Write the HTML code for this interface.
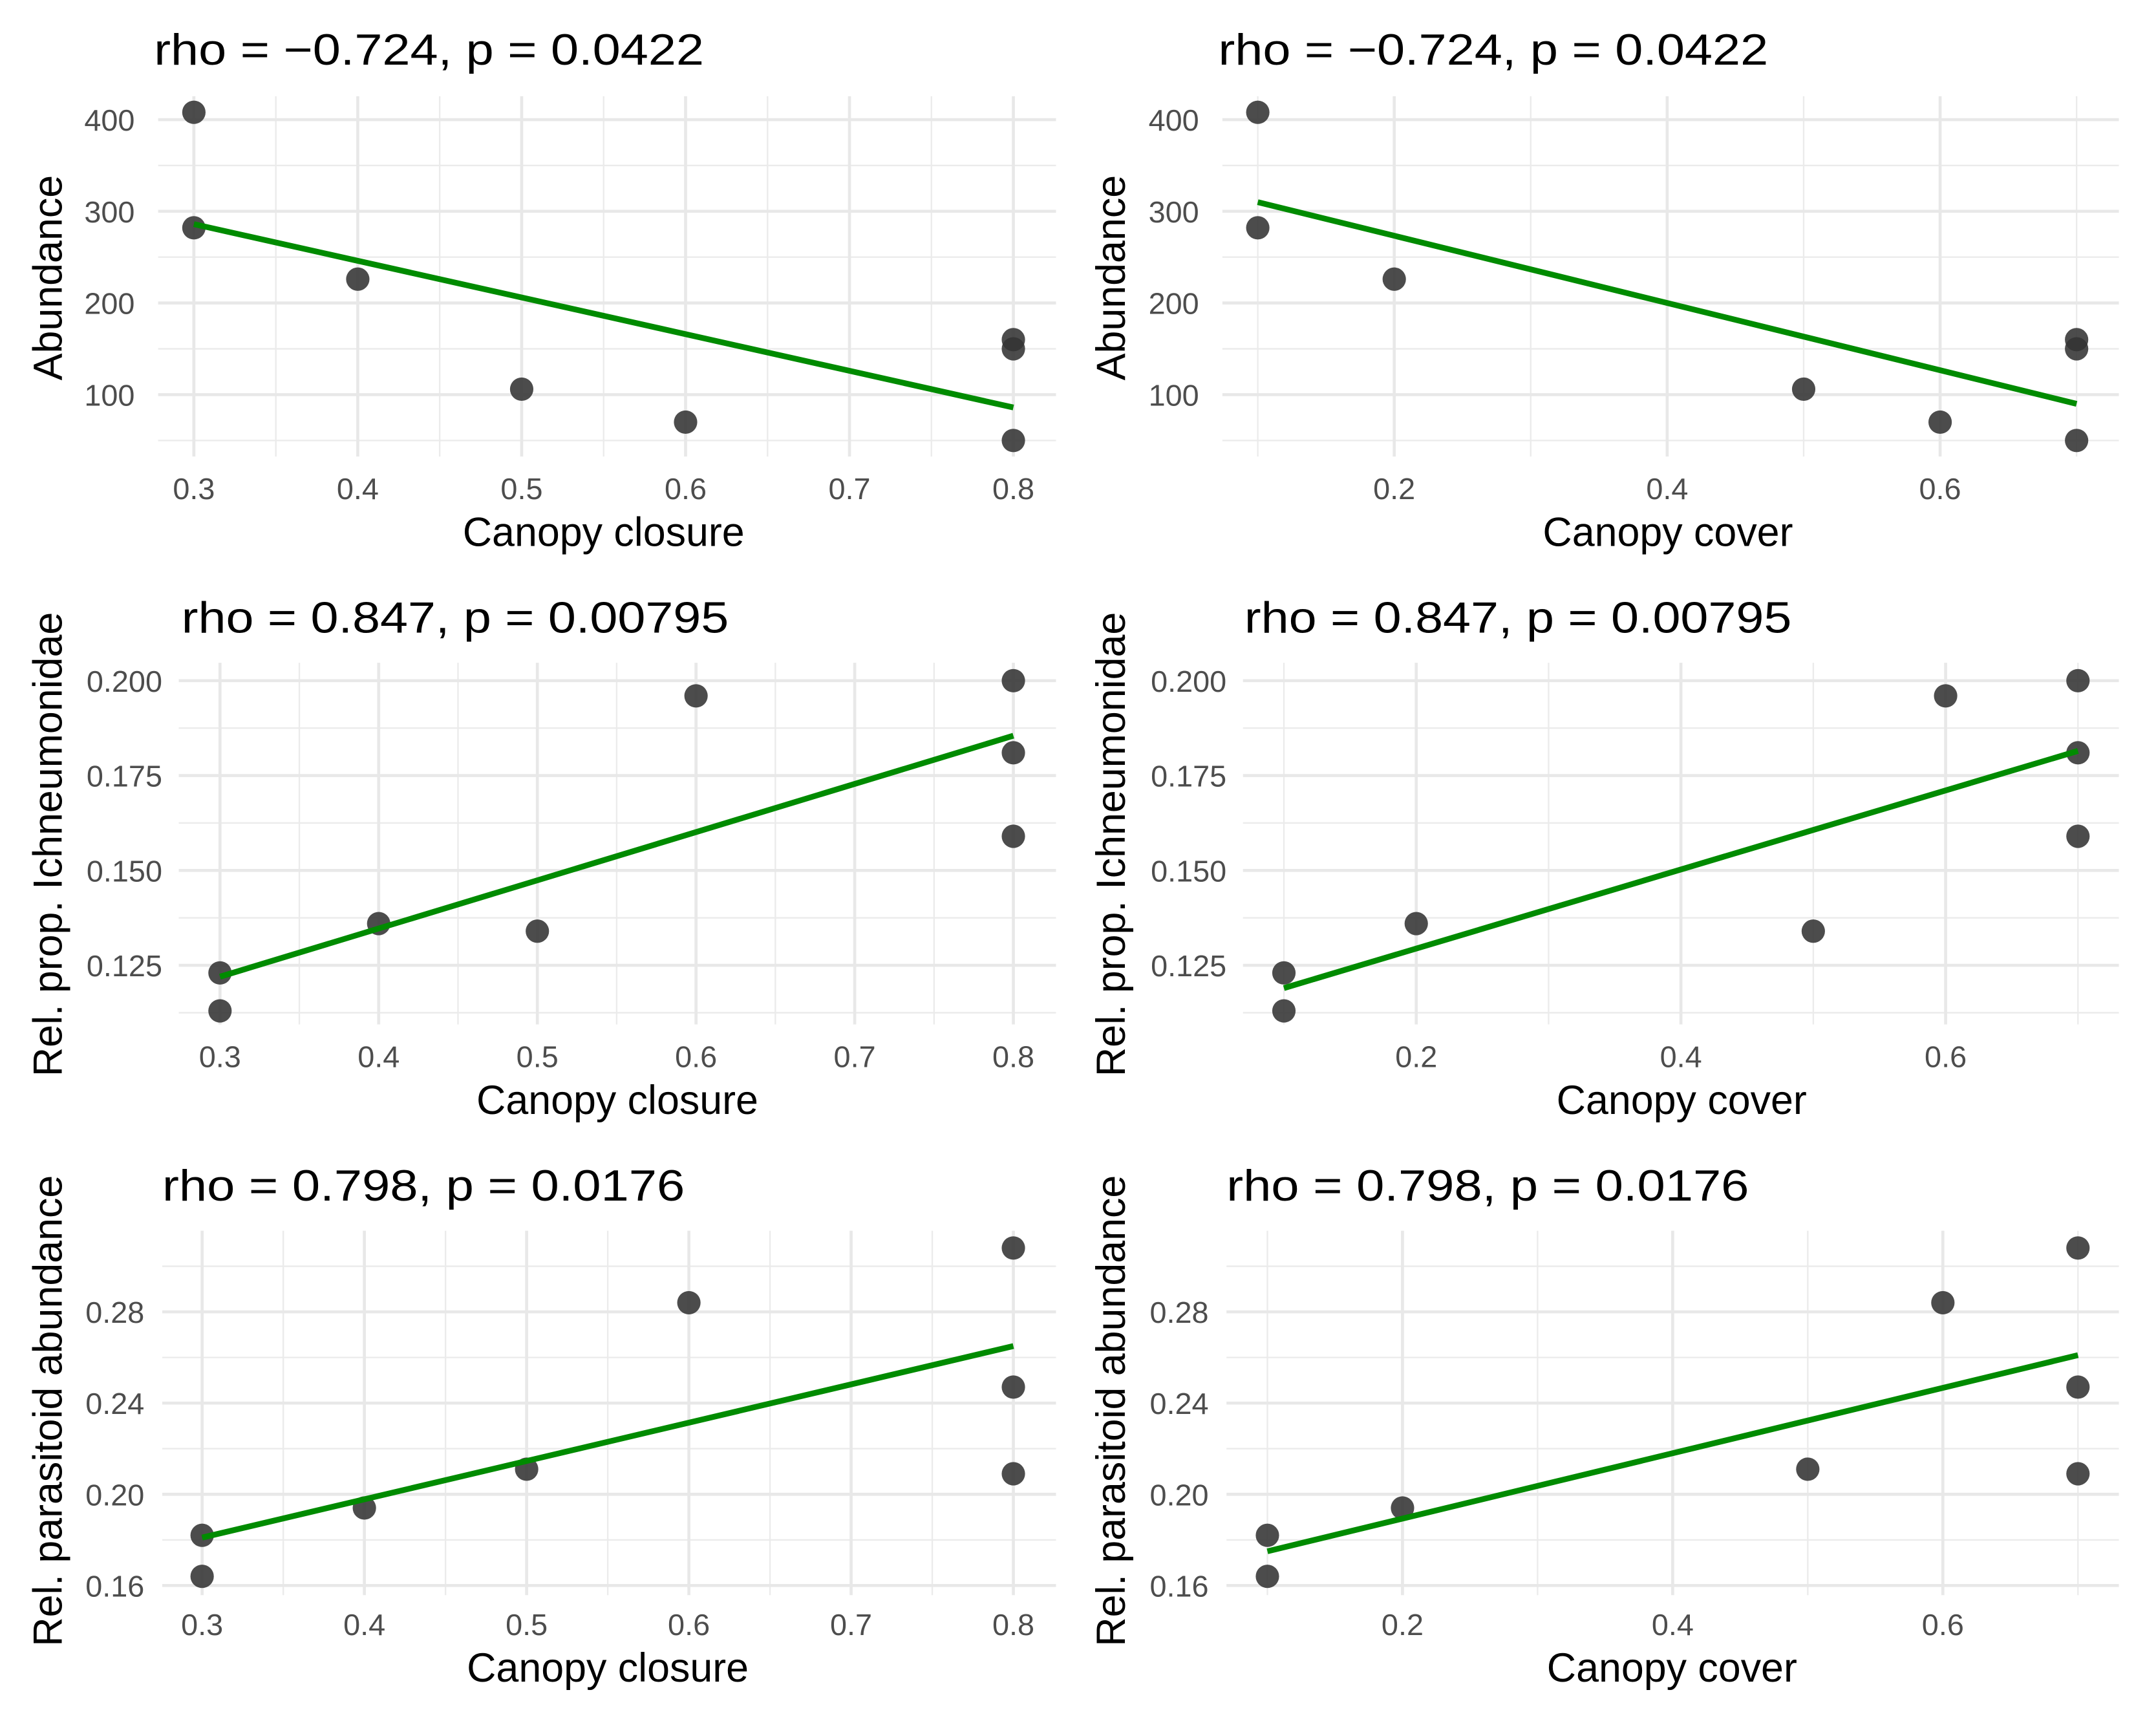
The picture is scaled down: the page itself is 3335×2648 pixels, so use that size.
<!DOCTYPE html>
<html><head><meta charset="utf-8"><style>
html,body{margin:0;padding:0;background:#fff;}
svg{display:block;}
text{font-family:"Liberation Sans",sans-serif;}
</style></head><body>
<svg id="fig" width="3335" height="2648" viewBox="0 0 1568 1245" xmlns="http://www.w3.org/2000/svg">
<rect width="1568" height="1245" fill="#fff"/>
</svg>
<script>
// ---- data ----
const closureX = [0.3, 0.3, 0.4, 0.5, 0.6, 0.8, 0.8, 0.8];
const coverX = [0.1, 0.1, 0.2, 0.5, 0.6, 0.7, 0.7, 0.7];
const abundanceY = [408, 282, 226, 106, 70, 160, 150, 50];
const ichneuY = [0.123, 0.113, 0.136, 0.134, 0.196, 0.200, 0.181, 0.159];
const parasitY = [0.182, 0.164, 0.194, 0.211, 0.284, 0.308, 0.247, 0.209];
const fitAbClosure = [286, 86];
const fitAbCover = [310, 90];
const fitIcClosure = [0.122, 0.1855];
const fitIcCover = [0.119, 0.1815];
const fitPaClosure = [0.181, 0.265];
const fitPaCover = [0.175, 0.261];
const closureTicks = [0.3, 0.4, 0.5, 0.6, 0.7, 0.8];
const closureMinor = [0.35, 0.45, 0.55, 0.65, 0.75];
const coverTicks = [0.2, 0.4, 0.6];
const coverMinor = [0.1, 0.3, 0.5, 0.7];
const abTicks = [100, 200, 300, 400];
const abMinor = [50, 150, 250, 350];
const icTicks = [0.125, 0.150, 0.175, 0.200];
const icTickLabels = ["0.125", "0.150", "0.175", "0.200"];
const icMinor = [0.1125, 0.1375, 0.1625, 0.1875];
const paTicks = [0.16, 0.20, 0.24, 0.28];
const paTickLabels = ["0.16", "0.20", "0.24", "0.28"];
const paMinor = [0.18, 0.22, 0.26, 0.30];

const NS = "http://www.w3.org/2000/svg";
const svg = document.getElementById("fig");
function mk(tag, attrs, parent) {
  const e = document.createElementNS(NS, tag);
  for (const k in attrs) e.setAttribute(k, attrs[k]);
  (parent || svg).appendChild(e);
  return e;
}

function panel(cfg) {
  const g = mk("g", {});
  
  
  const sx = v => cfg.px0 + (v - cfg.xa) / (cfg.xb - cfg.xa) * (cfg.px1 - cfg.px0);
  const sy = v => cfg.py0 + (v - cfg.ya) / (cfg.yb - cfg.ya) * (cfg.py1 - cfg.py0);
  cfg.xMinor.forEach(v => {
    const l = mk("line", {x1: sx(v), x2: sx(v), y1: cfg.top, y2: cfg.bottom, stroke: "#ebebeb", "stroke-width": 1.1}, g);
    
    
  });
  cfg.yMinor.forEach(v => {
    const l = mk("line", {x1: cfg.left, x2: cfg.right, y1: sy(v), y2: sy(v), stroke: "#ebebeb", "stroke-width": 1.1}, g);
    
    
  });
  cfg.xTicks.forEach(v => {
    const l = mk("line", {x1: sx(v), x2: sx(v), y1: cfg.top, y2: cfg.bottom, stroke: "#e8e8e8", "stroke-width": 2.2}, g);
    
    
    const t = mk("text", {x: sx(v), y: cfg.xTickY, "text-anchor": "middle", "font-size": 22, fill: "#4d4d4d"}, g);
    t.textContent = String(v);
    
    
  });
  cfg.yTicks.forEach((v, i) => {
    const l = mk("line", {x1: cfg.left, x2: cfg.right, y1: sy(v), y2: sy(v), stroke: "#e8e8e8", "stroke-width": 2.2}, g);
    
    
    const t = mk("text", {x: cfg.yTickX, y: sy(v) + 8, "text-anchor": "end", "font-size": 22, fill: "#4d4d4d"}, g);
    t.textContent = cfg.yTickLabels ? cfg.yTickLabels[i] : String(v);
    
    
  });
  cfg.xs.forEach((xv, i) => {
    const c = mk("circle", {cx: sx(xv), cy: sy(cfg.ys[i]), r: 8.5, fill: "#333333", "fill-opacity": 0.88}, g);
    
    
  });
  const ln = mk("line", {x1: sx(cfg.fitX[0]), y1: sy(cfg.fit[0]), x2: sx(cfg.fitX[1]), y2: sy(cfg.fit[1]), stroke: "#008b00", "stroke-width": 4.2}, g);
  
  
  const tt = mk("text", {x: cfg.titleX, y: cfg.titleY, "font-size": 32, fill: "#000", textLength: cfg.titleW, lengthAdjust: "spacingAndGlyphs"}, g);
  tt.textContent = cfg.title;
  
  
  const xt = mk("text", {x: cfg.xTitleX, y: cfg.xTitleY, "text-anchor": "middle", "font-size": 29.5, fill: "#000"}, g);
  xt.textContent = cfg.xTitle;
  
  
  const yt = mk("text", {x: 0, y: 0, "text-anchor": "middle", "font-size": 29.5, fill: "#000", transform: `translate(${cfg.yTitleX},${cfg.yTitleY}) rotate(-90)`}, g);
  yt.textContent = cfg.yTitle;
  
  
}

const rows = [
  {ys: abundanceY, fitL: fitAbClosure, fitR: fitAbCover, yTicks: abTicks, yMinor: abMinor, yLabels: null,
   ya: 400, py0: 87, yb: 100, py1: 287, top: 70, bottom: 332, title: "rho = \u22120.724, p = 0.0422", titleW: 400,
   titleY: 47, xTickY: 363, xTitleY: 397, yTitle: "Abundance", yTitleC: 202, tickXL: 98, tickXR: 872,
   titleXL: 112, titleXR: 886, leftL: 115, leftR: 889, xLc: [141, 737], xRc: [1014, 1411], xTitleL: 439, xTitleR: 1213},
  {ys: ichneuY, fitL: fitIcClosure, fitR: fitIcCover, yTicks: icTicks, yMinor: icMinor, yLabels: icTickLabels,
   ya: 0.2, py0: 495, yb: 0.125, py1: 702, top: 482, bottom: 745, title: "rho = 0.847, p = 0.00795", titleW: 398,
   titleY: 460, xTickY: 776, xTitleY: 810, yTitle: "Rel. prop. Ichneumonidae", yTitleC: 614, tickXL: 118, tickXR: 892,
   titleXL: 132, titleXR: 905, leftL: 130, leftR: 904, xLc: [160, 737], xRc: [1030, 1415], xTitleL: 449, xTitleR: 1223},
  {ys: parasitY, fitL: fitPaClosure, fitR: fitPaCover, yTicks: paTicks, yMinor: paMinor, yLabels: paTickLabels,
   ya: 0.28, py0: 954, yb: 0.16, py1: 1153, top: 895, bottom: 1160, title: "rho = 0.798, p = 0.0176", titleW: 380,
   titleY: 873, xTickY: 1189, xTitleY: 1223, yTitle: "Rel. parasitoid abundance", yTitleC: 1026, tickXL: 105, tickXR: 879,
   titleXL: 118, titleXR: 892, leftL: 118, leftR: 892, xLc: [147, 737], xRc: [1020, 1413], xTitleL: 442, xTitleR: 1216}
];
rows.forEach((r, i) => {
  panel({name: "panel-closure-" + (i + 1), xs: closureX, ys: r.ys, fit: r.fitL, fitX: [0.3, 0.8],
    xa: 0.3, px0: r.xLc[0], xb: 0.8, px1: r.xLc[1], ya: r.ya, py0: r.py0, yb: r.yb, py1: r.py1,
    left: r.leftL, right: 768, top: r.top, bottom: r.bottom,
    xTicks: closureTicks, xMinor: closureMinor, yTicks: r.yTicks, yMinor: r.yMinor, yTickLabels: r.yLabels,
    xTickY: r.xTickY, yTickX: r.tickXL, title: r.title, titleX: r.titleXL, titleY: r.titleY, titleW: r.titleW,
    xTitle: "Canopy closure", xTitleX: r.xTitleL, xTitleY: r.xTitleY, yTitle: r.yTitle, yTitleX: 45, yTitleY: r.yTitleC});
  panel({name: "panel-cover-" + (i + 1), xs: coverX, ys: r.ys, fit: r.fitR, fitX: [0.1, 0.7],
    xa: 0.2, px0: r.xRc[0], xb: 0.6, px1: r.xRc[1], ya: r.ya, py0: r.py0, yb: r.yb, py1: r.py1,
    left: r.leftR, right: 1541, top: r.top, bottom: r.bottom,
    xTicks: coverTicks, xMinor: coverMinor, yTicks: r.yTicks, yMinor: r.yMinor, yTickLabels: r.yLabels,
    xTickY: r.xTickY, yTickX: r.tickXR, title: r.title, titleX: r.titleXR, titleY: r.titleY, titleW: r.titleW,
    xTitle: "Canopy cover", xTitleX: r.xTitleR, xTitleY: r.xTitleY, yTitle: r.yTitle, yTitleX: 818, yTitleY: r.yTitleC});
});
</script>
</body></html>
